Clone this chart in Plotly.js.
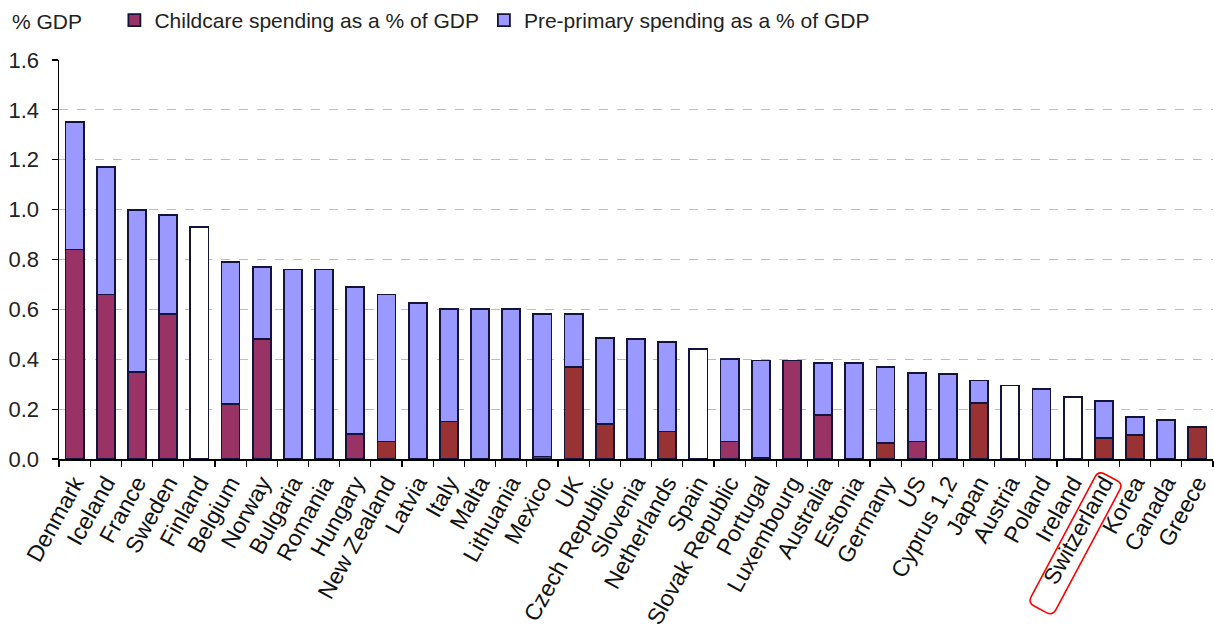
<!DOCTYPE html>
<html>
<head>
<meta charset="utf-8">
<script src="https://cdn.plot.ly/plotly-3.0.1.min.js"></script>
<style>html,body{margin:0;padding:0;background:#fff;}#chart{width:1214px;height:635px;}</style>
</head>
<body>
<div id="chart"></div>
<script>
// ---- data ----
const countries = ["Denmark","Iceland","France","Sweden","Finland","Belgium","Norway","Bulgaria","Romania","Hungary","New Zealand","Latvia","Italy","Malta","Lithuania","Mexico","UK","Czech Republic","Slovenia","Netherlands","Spain","Slovak Republic","Portugal","Luxembourg","Australia","Estonia","Germany","US","Cyprus 1,2","Japan","Austria","Poland","Ireland","Switzerland","Korea","Canada","Greece"];
const childcare = [0.84,0.66,0.35,0.58,null,0.22,0.48,null,null,0.10,0.07,null,0.15,null,null,0.01,0.37,0.14,null,0.11,null,0.07,0.005,0.395,0.175,null,0.065,0.07,null,0.225,null,null,null,0.085,0.095,null,0.128];
const preprimary = [0.51,0.51,0.65,0.40,null,0.57,0.29,0.76,0.76,0.59,0.59,0.625,0.45,0.60,0.60,0.57,0.21,0.345,0.48,0.36,null,0.33,0.39,null,0.21,0.385,0.305,0.275,0.34,0.09,null,0.28,null,0.148,0.075,0.155,null];
const totalOnly = [null,null,null,null,0.93,null,null,null,null,null,null,null,null,null,null,null,null,null,null,null,0.44,null,null,null,null,null,null,null,null,null,0.295,null,0.25,null,null,null,null];
// childcare shade per bar: M = maroon, B = brown-red
const childShade = ["M","M","M","M","","M","M","","","M","B","","B","","","B","B","B","","B","","M","B","M","M","","B","M","","B","","","","B","B","","B"];
const yTicks = [0,0.2,0.4,0.6,0.8,1.0,1.2,1.4,1.6];

// ---- styling ----
const FONT = "Liberation Sans, Arial, sans-serif";
const MAROON = "#993366", BROWN = "#993333", LAVENDER = "#9999FF";
const OUTLINE = {color: "#14143a", width: 1.8};
const W = 1214, H = 635, ML = 59, MR = 1, MT = 59, MB = 176;

const traces = [
  {type: "bar", name: "Childcare spending as a % of GDP", x: countries, y: childcare,
   marker: {color: childShade.map(s => s === "B" ? BROWN : MAROON), line: OUTLINE}, hoverinfo: "skip"},
  {type: "bar", name: "Pre-primary spending as a % of GDP", x: countries, y: preprimary,
   marker: {color: LAVENDER, line: OUTLINE}, hoverinfo: "skip"},
  {type: "bar", name: "Total", x: countries, y: totalOnly, showlegend: false,
   marker: {color: "#ffffff", line: OUTLINE}, hoverinfo: "skip"}
];

// rounded rotated box around "Switzerland" label (pixel geometry -> paper)
function px2paper(px, py) {
  return [(px - ML) / (W - ML - MR), (H - MB - py) / (H - MT - MB)];
}
function roundedBox(cx, cy, halfL, halfS, angDeg, r) {
  const a = angDeg * Math.PI / 180;
  const u = [Math.cos(a), -Math.sin(a)];
  const v = [Math.sin(a), Math.cos(a)];
  const P = (s, t) => { const p = px2paper(cx + u[0]*s + v[0]*t, cy + u[1]*s + v[1]*t); return p[0].toFixed(5) + "," + p[1].toFixed(5); };
  const L = halfL, S = halfS;
  return "M" + P(L - r, -S) + " Q" + P(L, -S) + " " + P(L, -S + r) +
         " L" + P(L, S - r) + " Q" + P(L, S) + " " + P(L - r, S) +
         " L" + P(-L + r, S) + " Q" + P(-L, S) + " " + P(-L, S - r) +
         " L" + P(-L, -S + r) + " Q" + P(-L, -S) + " " + P(-L + r, -S) + " Z";
}

const layout = {
  width: W, height: H, autosize: false,
  margin: {l: ML, r: MR, t: MT, b: MB, pad: 0},
  paper_bgcolor: "#ffffff", plot_bgcolor: "#ffffff",
  font: {family: FONT, size: 21, color: "#222222"},
  barmode: "stack", bargap: 0.42,
  showlegend: true,
  legend: {orientation: "h", x: 0.048, xanchor: "left", y: 1.0975, yanchor: "middle",
           font: {family: FONT, size: 21, color: "#222222"}, traceorder: "normal",
           itemwidth: 30, bgcolor: "rgba(0,0,0,0)"},
  xaxis: {type: "category", tickangle: -61, tickfont: {family: FONT, size: 23, color: "#111111"},
          showline: true, linecolor: "#000000", linewidth: 1.5, ticks: "outside", tickson: "boundaries",
          ticklen: 6, tickcolor: "#000000", tickwidth: 1.2, showgrid: false, fixedrange: true},
  yaxis: {range: [0, 1.6], tickvals: yTicks, ticktext: yTicks.map(v => v.toFixed(1)),
          tickfont: {family: FONT, size: 22, color: "#222222"},
          showline: true, linecolor: "#000000", linewidth: 1.5, ticks: "outside", ticklen: 6,
          tickcolor: "#000000", tickwidth: 1.2, ticklabelstandoff: 8,
          showgrid: true, gridcolor: "#bdbdbd", griddash: "dash", gridwidth: 1, zeroline: false, fixedrange: true},
  annotations: [
    {text: "% GDP", xref: "paper", yref: "paper", x: px2paper(10, 0)[0], y: px2paper(0, 20)[1],
     xanchor: "left", yanchor: "middle", showarrow: false, font: {family: FONT, size: 21, color: "#222222"}}
  ],
  shapes: [
    {type: "path", xref: "paper", yref: "paper", path: roundedBox(1075.5, 543.5, 75, 14, 62, 7),
     line: {color: "#ff0000", width: 1.6}, fillcolor: "rgba(0,0,0,0)"}
  ]
};

Plotly.newPlot("chart", traces, layout, {displayModeBar: false, staticPlot: true});
</script>
</body>
</html>
